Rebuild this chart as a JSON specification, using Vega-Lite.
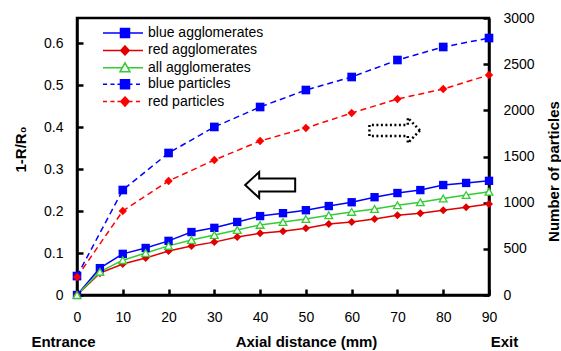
{
  "$schema": "https://vega.github.io/schema/vega-lite/v6.json",
  "width": 412,
  "height": 277,
  "autosize": {"type": "none"},
  "padding": {"left": 77, "top": 18, "right": 72, "bottom": 56},
  "background": "white",
  "datasets": {
    "agg": [
      {"distance": 0, "series": "blue agglomerates", "value": 0},
      {"distance": 5, "series": "blue agglomerates", "value": 0.064},
      {"distance": 10, "series": "blue agglomerates", "value": 0.098},
      {"distance": 15, "series": "blue agglomerates", "value": 0.112},
      {"distance": 20, "series": "blue agglomerates", "value": 0.129},
      {"distance": 25, "series": "blue agglomerates", "value": 0.150},
      {"distance": 30, "series": "blue agglomerates", "value": 0.160},
      {"distance": 35, "series": "blue agglomerates", "value": 0.174},
      {"distance": 40, "series": "blue agglomerates", "value": 0.188},
      {"distance": 45, "series": "blue agglomerates", "value": 0.195},
      {"distance": 50, "series": "blue agglomerates", "value": 0.202},
      {"distance": 55, "series": "blue agglomerates", "value": 0.212},
      {"distance": 60, "series": "blue agglomerates", "value": 0.221},
      {"distance": 65, "series": "blue agglomerates", "value": 0.233},
      {"distance": 70, "series": "blue agglomerates", "value": 0.243},
      {"distance": 75, "series": "blue agglomerates", "value": 0.250},
      {"distance": 80, "series": "blue agglomerates", "value": 0.262},
      {"distance": 85, "series": "blue agglomerates", "value": 0.267},
      {"distance": 90, "series": "blue agglomerates", "value": 0.272},
      {"distance": 0, "series": "red agglomerates", "value": 0},
      {"distance": 5, "series": "red agglomerates", "value": 0.052},
      {"distance": 10, "series": "red agglomerates", "value": 0.074},
      {"distance": 15, "series": "red agglomerates", "value": 0.088},
      {"distance": 20, "series": "red agglomerates", "value": 0.105},
      {"distance": 25, "series": "red agglomerates", "value": 0.117},
      {"distance": 30, "series": "red agglomerates", "value": 0.126},
      {"distance": 35, "series": "red agglomerates", "value": 0.138},
      {"distance": 40, "series": "red agglomerates", "value": 0.147},
      {"distance": 45, "series": "red agglomerates", "value": 0.152},
      {"distance": 50, "series": "red agglomerates", "value": 0.159},
      {"distance": 55, "series": "red agglomerates", "value": 0.169},
      {"distance": 60, "series": "red agglomerates", "value": 0.174},
      {"distance": 65, "series": "red agglomerates", "value": 0.181},
      {"distance": 70, "series": "red agglomerates", "value": 0.190},
      {"distance": 75, "series": "red agglomerates", "value": 0.195},
      {"distance": 80, "series": "red agglomerates", "value": 0.202},
      {"distance": 85, "series": "red agglomerates", "value": 0.209},
      {"distance": 90, "series": "red agglomerates", "value": 0.217},
      {"distance": 0, "series": "all agglomerates", "value": 0},
      {"distance": 5, "series": "all agglomerates", "value": 0.055},
      {"distance": 10, "series": "all agglomerates", "value": 0.083},
      {"distance": 15, "series": "all agglomerates", "value": 0.100},
      {"distance": 20, "series": "all agglomerates", "value": 0.117},
      {"distance": 25, "series": "all agglomerates", "value": 0.131},
      {"distance": 30, "series": "all agglomerates", "value": 0.143},
      {"distance": 35, "series": "all agglomerates", "value": 0.155},
      {"distance": 40, "series": "all agglomerates", "value": 0.167},
      {"distance": 45, "series": "all agglomerates", "value": 0.174},
      {"distance": 50, "series": "all agglomerates", "value": 0.181},
      {"distance": 55, "series": "all agglomerates", "value": 0.190},
      {"distance": 60, "series": "all agglomerates", "value": 0.198},
      {"distance": 65, "series": "all agglomerates", "value": 0.205},
      {"distance": 70, "series": "all agglomerates", "value": 0.214},
      {"distance": 75, "series": "all agglomerates", "value": 0.221},
      {"distance": 80, "series": "all agglomerates", "value": 0.230},
      {"distance": 85, "series": "all agglomerates", "value": 0.238},
      {"distance": 90, "series": "all agglomerates", "value": 0.246}
    ],
    "part": [
      {"distance": 0, "series": "blue particles", "count": 205},
      {"distance": 10, "series": "blue particles", "count": 1137},
      {"distance": 20, "series": "blue particles", "count": 1538},
      {"distance": 30, "series": "blue particles", "count": 1820},
      {"distance": 40, "series": "blue particles", "count": 2036},
      {"distance": 50, "series": "blue particles", "count": 2220},
      {"distance": 60, "series": "blue particles", "count": 2361},
      {"distance": 70, "series": "blue particles", "count": 2545},
      {"distance": 80, "series": "blue particles", "count": 2686},
      {"distance": 90, "series": "blue particles", "count": 2783},
      {"distance": 0, "series": "red particles", "count": 195},
      {"distance": 10, "series": "red particles", "count": 910},
      {"distance": 20, "series": "red particles", "count": 1235},
      {"distance": 30, "series": "red particles", "count": 1462},
      {"distance": 40, "series": "red particles", "count": 1668},
      {"distance": 50, "series": "red particles", "count": 1809},
      {"distance": 60, "series": "red particles", "count": 1971},
      {"distance": 70, "series": "red particles", "count": 2123},
      {"distance": 80, "series": "red particles", "count": 2231},
      {"distance": 90, "series": "red particles", "count": 2383}
    ]
  },
  "layer": [
    {
      "data": {"name": "agg"},
      "encoding": {
        "x": {
          "field": "distance", "type": "quantitative",
          "scale": {"domain": [0, 90], "nice": false},
          "axis": {
            "orient": "bottom",
            "values": [0, 10, 20, 30, 40, 50, 60, 70, 80, 90],
            "title": "Axial distance (mm)",
            "titleX": 229, "titleY": 39, "titleBaseline": "top", "titleAlign": "center",
            "tickSize": -6, "labelPadding": 21, "labelFlush": false
          }
        },
        "y": {
          "field": "value", "type": "quantitative",
          "scale": {"domain": [0, 0.66], "nice": false},
          "axis": {
            "orient": "left",
            "values": [0, 0.1, 0.2, 0.3, 0.4, 0.5, 0.6],
            "format": "~g",
            "title": "1-R/R₀",
            "titleX": -57, "titleY": 131, "titleAngle": 270, "titleBaseline": "middle", "titleAlign": "center",
            "tickSize": -6, "labelPadding": 20
          }
        },
        "color": {
          "field": "series", "type": "nominal",
          "scale": {
            "domain": ["blue agglomerates", "red agglomerates", "all agglomerates", "blue particles", "red particles"],
            "range": ["#0000FF", "#E00000", "#33CC33", "#0000FF", "#FF0000"]
          },
          "legend": {
            "title": null,
            "orient": "none",
            "legendX": 39,
            "legendY": 8,
            "padding": 0,
            "rowPadding": 1.4,
            "symbolSize": 100,
            "symbolOffset": 0,
            "labelOffset": 18,
            "labelFontSize": 14,
            "labelColor": "black",
            "labelFont": "Liberation Sans",
            "labelLimit": 300,
            "encode": {
              "symbols": {
                "update": {
                  "size": {"value": 100},
                  "strokeWidth": {"value": 1.5},
                  "opacity": {"value": 1},
                  "shape": {"signal": "datum.value === 'blue agglomerates' ? 'M-4,0L4,0M-0.5,-0.9L1.3,-0.9L1.3,0.9L-0.5,0.9Z' : datum.value === 'red agglomerates' ? 'M-4,0L4,0M0.4,-0.9L1.25,0L0.4,0.9L-0.45,0Z' : datum.value === 'all agglomerates' ? 'M-4,0L-0.15,0M0.95,0L4,0M0.4,-1L1.4,0.8L-0.6,0.8ZM0.4,-1L-0.6,0.8L1.4,0.8Z' : datum.value === 'blue particles' ? 'M-4,0L-3.2,0M-2.5,0L-1.7,0M-1.1,0L-0.5,0M1.3,0L1.9,0M2.6,0L3.4,0M-0.5,-0.9L1.3,-0.9L1.3,0.9L-0.5,0.9Z' : 'M-4,0L-3.2,0M-2.5,0L-1.7,0M-1.1,0L-0.45,0M1.25,0L1.9,0M2.6,0L3.4,0M0.4,-0.9L1.25,0L0.4,0.9L-0.45,0Z'"}
                }
              }
            }
          }
        }
      },
      "layer": [
        {"mark": {"type": "line", "strokeWidth": 1.5}},
        {
          "transform": [{"filter": "datum.series === 'blue agglomerates'"}],
          "mark": {"type": "point", "shape": "square", "filled": true, "size": 70, "opacity": 1}
        },
        {
          "transform": [{"filter": "datum.series === 'red agglomerates'"}],
          "mark": {"type": "point", "shape": "diamond", "filled": true, "size": 64, "opacity": 1}
        },
        {
          "transform": [{"filter": "datum.series === 'all agglomerates'"}],
          "mark": {"type": "point", "shape": "triangle-up", "filled": false, "fill": "white", "size": 60, "strokeWidth": 1.3, "opacity": 1}
        },
        {
          "data": {"values": [{"distance": 42.2, "value": 0.262}]},
          "mark": {"type": "point", "shape": "M-1,0L-0.44,-0.52L-0.44,-0.26L1,-0.26L1,0.26L-0.44,0.26L-0.44,0.52Z", "size": 2500, "filled": false, "strokeWidth": 2, "opacity": 1},
          "encoding": {"color": {"value": "black"}}
        },
        {
          "data": {"values": [{"distance": 69.4, "value": 0.392}]},
          "mark": {"type": "point", "shape": "M1,0L0.52,-0.5L0.52,-0.22L-1,-0.22L-1,0.22L0.52,0.22L0.52,0.5Z", "size": 2550, "filled": false, "strokeWidth": 2.5, "strokeDash": [2, 2.5], "opacity": 1},
          "encoding": {"color": {"value": "black"}}
        }
      ]
    },
    {
      "data": {"name": "part"},
      "encoding": {
        "x": {
          "field": "distance", "type": "quantitative",
          "scale": {"domain": [0, 90], "nice": false},
          "axis": {
            "orient": "bottom",
            "values": [0, 90],
            "title": null,
            "domain": false, "ticks": false, "grid": false,
            "labelExpr": "datum.value === 0 ? 'Entrance' : 'Exit'",
            "labelFontWeight": "bold", "labelFontSize": 15,
            "labelPadding": 39, "labelFlush": false,
            "labelOffset": {"condition": {"test": "datum.value === 0", "value": -14}, "value": 15}
          }
        },
        "y": {
          "field": "count", "type": "quantitative",
          "scale": {"domain": [0, 3000], "nice": false},
          "axis": {
            "orient": "right",
            "values": [0, 500, 1000, 1500, 2000, 2500, 3000],
            "format": "d",
            "title": "Number of particles",
            "titleX": 64, "titleY": 153, "titleAngle": 270, "titleBaseline": "middle", "titleAlign": "center",
            "tickSize": -6, "labelPadding": 20
          }
        },
        "color": {"field": "series", "type": "nominal"}
      },
      "layer": [
        {"mark": {"type": "line", "strokeWidth": 1.5, "strokeDash": [6, 4]}},
        {
          "transform": [{"filter": "datum.series === 'blue particles'"}],
          "mark": {"type": "point", "shape": "square", "filled": true, "size": 75, "opacity": 1}
        },
        {
          "transform": [{"filter": "datum.series === 'red particles'"}],
          "mark": {"type": "point", "shape": "diamond", "filled": true, "size": 70, "opacity": 1}
        }
      ]
    }
  ],
  "resolve": {"scale": {"y": "independent"}, "axis": {"x": "independent"}},
  "config": {
    "font": "Liberation Sans",
    "view": {"stroke": "black", "strokeWidth": 2.5},
    "axis": {
      "labelColor": "black", "titleColor": "black", "domainColor": "black", "tickColor": "black",
      "labelFont": "Liberation Sans", "titleFont": "Liberation Sans",
      "labelFontSize": 14, "titleFontSize": 15, "titleFontWeight": "bold",
      "grid": false, "domainWidth": 2.5, "tickWidth": 2.5
    }
  }
}
